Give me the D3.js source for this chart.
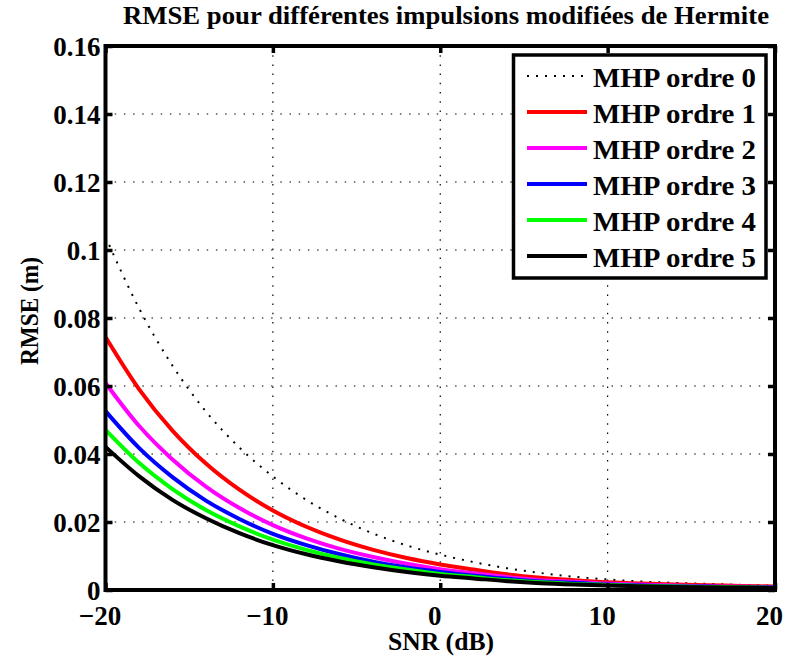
<!DOCTYPE html>
<html>
<head>
<meta charset="utf-8">
<script src="https://cdn.jsdelivr.net/npm/d3@7"></script>
<style>
  body { margin: 0; background: #fff; }
  svg text { font-family: "Liberation Serif", "Times New Roman", serif; font-weight: bold; fill: #000; }
</style>
</head>
<body>
<div class="chart"></div>
<script>
// SNR sample points (dB)
const snr = [-20, -18, -16, -14, -12, -10, -8, -6, -4, -2, 0, 2, 4, 6, 8, 10, 12, 14, 16, 18, 20];

// RMSE (m), one array per pulse order
const ordre0 = [0.1039, 0.0829, 0.0660, 0.0525, 0.0419, 0.0334, 0.0265, 0.0210, 0.0166, 0.0131, 0.0104, 0.0082, 0.0064, 0.0050, 0.0039, 0.0031, 0.0025, 0.0021, 0.0018, 0.0015, 0.0013];
const ordre1 = [0.0744, 0.0591, 0.0469, 0.0372, 0.0295, 0.0234, 0.0186, 0.0148, 0.0118, 0.0094, 0.0075, 0.0060, 0.0046, 0.0036, 0.0029, 0.0023, 0.0019, 0.0016, 0.0014, 0.0012, 0.0010];
const ordre2 = [0.0609, 0.0483, 0.0384, 0.0304, 0.0241, 0.0191, 0.0152, 0.0121, 0.0097, 0.0077, 0.0061, 0.0049, 0.0038, 0.0029, 0.0024, 0.0019, 0.0016, 0.0013, 0.0011, 0.0010, 0.0008];
const ordre3 = [0.0526, 0.0418, 0.0332, 0.0263, 0.0209, 0.0165, 0.0132, 0.0105, 0.0083, 0.0066, 0.0053, 0.0042, 0.0033, 0.0025, 0.0021, 0.0016, 0.0013, 0.0011, 0.0010, 0.0008, 0.0007];
const ordre4 = [0.0471, 0.0374, 0.0297, 0.0235, 0.0187, 0.0148, 0.0118, 0.0094, 0.0075, 0.0060, 0.0047, 0.0038, 0.0029, 0.0023, 0.0018, 0.0015, 0.0012, 0.0010, 0.0009, 0.0008, 0.0006];
const ordre5 = [0.0421, 0.0335, 0.0265, 0.0211, 0.0167, 0.0132, 0.0105, 0.0084, 0.0067, 0.0053, 0.0042, 0.0034, 0.0026, 0.0020, 0.0016, 0.0013, 0.0011, 0.0009, 0.0008, 0.0007, 0.0006];

const labels = ['MHP ordre 0', 'MHP ordre 1', 'MHP ordre 2', 'MHP ordre 3', 'MHP ordre 4', 'MHP ordre 5'];
const colors = ['#000000', '#ff0000', '#ff00ff', '#0000ff', '#00ff00', '#000000'];
const xTicks = [-20, -10, 0, 10, 20];
const yTicks = [0, 0.02, 0.04, 0.06, 0.08, 0.1, 0.12, 0.14, 0.16];

const W = 792, H = 661;
const plotLeft = 105.5, plotRight = 775, plotTop = 46, plotBottom = 590;

const x = d3.scaleLinear().domain([-20, 20]).range([plotLeft, plotRight]);
const y = d3.scaleLinear().domain([0, 0.16]).range([plotBottom, plotTop]);

const svg = d3.select('.chart').append('svg')
    .attr('width', W)
    .attr('height', H);

// grid
const grid = svg.append('g')
    .attr('stroke', '#000')
    .attr('stroke-width', 1.2)
    .attr('stroke-dasharray', '1.5,7.7');
grid.selectAll('.gx')
    .data(xTicks.slice(1, -1))
    .enter().append('line')
    .attr('x1', d => x(d)).attr('x2', d => x(d))
    .attr('y1', plotTop).attr('y2', plotBottom);
grid.selectAll('.gy')
    .data(yTicks.slice(1, -1))
    .enter().append('line')
    .attr('x1', plotLeft).attr('x2', plotRight)
    .attr('y1', d => y(d)).attr('y2', d => y(d));

// curves
const series = [ordre0, ordre1, ordre2, ordre3, ordre4, ordre5];
const line = d3.line()
    .x((d, i) => x(snr[i]))
    .y(d => y(d))
    .curve(d3.curveMonotoneX);

svg.append('g').selectAll('path')
    .data(series)
    .enter().append('path')
    .attr('d', line)
    .attr('fill', 'none')
    .attr('stroke', (d, i) => colors[i])
    .attr('stroke-width', (d, i) => i === 0 ? 2 : 4)
    .attr('stroke-dasharray', (d, i) => i === 0 ? '2,7' : null);

// axes (ticks inward, box on all sides)
const tickLen = 7;
svg.append('g')
    .attr('transform', 'translate(0,' + plotBottom + ')')
    .call(d3.axisBottom(x).tickValues(xTicks).tickSizeInner(-tickLen).tickSizeOuter(0)
        .tickFormat(d => d < 0 ? '\u2212' + Math.abs(d) : d))
    .call(g => g.select('.domain').remove())
    .call(g => g.selectAll('line').attr('stroke-width', 3.5))
    .call(g => g.selectAll('text')
        .attr('y', 35).attr('dy', null).attr('dx', -6)
        .style('font-size', '27px'));

svg.append('g')
    .attr('transform', 'translate(0,' + plotTop + ')')
    .call(d3.axisTop(x).tickValues(xTicks).tickSizeInner(-tickLen).tickSizeOuter(0).tickFormat(''))
    .call(g => g.select('.domain').remove())
    .call(g => g.selectAll('line').attr('stroke-width', 3.5));

svg.append('g')
    .attr('transform', 'translate(' + plotLeft + ',0)')
    .call(d3.axisLeft(y).tickValues(yTicks).tickSizeInner(-tickLen).tickSizeOuter(0)
        .tickFormat(d => d === 0 ? '0' : d3.format('.2~f')(d)))
    .call(g => g.select('.domain').remove())
    .call(g => g.selectAll('line').attr('stroke-width', 3.5))
    .call(g => g.selectAll('text')
        .attr('x', -5).attr('dy', '9')
        .style('font-size', '27px'));

svg.append('g')
    .attr('transform', 'translate(' + plotRight + ',0)')
    .call(d3.axisRight(y).tickValues(yTicks).tickSizeInner(-tickLen).tickSizeOuter(0).tickFormat(''))
    .call(g => g.select('.domain').remove())
    .call(g => g.selectAll('line').attr('stroke-width', 3.5));

svg.append('rect')
    .attr('x', plotLeft).attr('y', plotTop)
    .attr('width', plotRight - plotLeft).attr('height', plotBottom - plotTop)
    .attr('fill', 'none')
    .attr('stroke', '#000')
    .attr('stroke-width', 4);

// titles
svg.append('text')
    .attr('x', 446).attr('y', 24)
    .attr('text-anchor', 'middle')
    .attr('textLength', 646).attr('lengthAdjust', 'spacingAndGlyphs')
    .style('font-size', '26px')
    .text('RMSE pour différentes impulsions modifiées de Hermite');

svg.append('text')
    .attr('x', 441).attr('y', 650)
    .attr('text-anchor', 'middle')
    .attr('textLength', 106).attr('lengthAdjust', 'spacingAndGlyphs')
    .style('font-size', '25px')
    .text('SNR (dB)');

svg.append('text')
    .attr('transform', 'translate(38,311) rotate(-90)')
    .attr('text-anchor', 'middle')
    .attr('textLength', 108).attr('lengthAdjust', 'spacingAndGlyphs')
    .style('font-size', '25px')
    .text('RMSE (m)');

// legend
const legend = svg.append('g');
legend.append('rect')
    .attr('x', 513.5).attr('y', 55)
    .attr('width', 252.5).attr('height', 223)
    .attr('fill', '#fff')
    .attr('stroke', '#000')
    .attr('stroke-width', 3.5);

const items = legend.selectAll('.item')
    .data(labels)
    .enter().append('g')
    .attr('transform', (d, i) => 'translate(0,' + (76 + i * 36) + ')');
items.append('line')
    .attr('x1', 527).attr('x2', 587)
    .attr('stroke', (d, i) => colors[i])
    .attr('stroke-width', (d, i) => i === 0 ? 2 : 4)
    .attr('stroke-dasharray', (d, i) => i === 0 ? '2,7' : null);
items.append('text')
    .attr('x', 593).attr('y', 10.5)
    .attr('textLength', 163).attr('lengthAdjust', 'spacingAndGlyphs')
    .style('font-size', '27px')
    .text(d => d);
</script>
</body>
</html>
